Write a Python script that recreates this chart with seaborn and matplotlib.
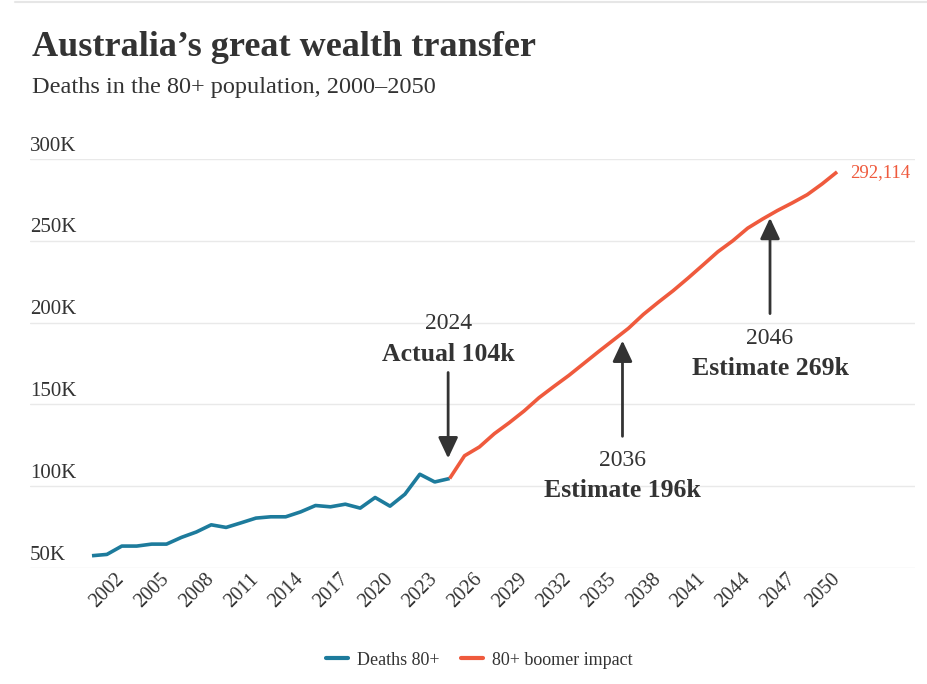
import matplotlib.pyplot as plt
import matplotlib.transforms as mtransforms
from matplotlib.lines import Line2D
import pandas as pd
import seaborn as sns

years_actual = list(range(2000, 2025))
deaths_actual = [57500, 58300, 63400, 63400, 64600, 64600, 68700, 72000, 76400, 74800,
                 77600, 80500, 81300, 81300, 84300, 88200, 87400, 89000, 86600, 93100,
                 87800, 95100, 107300, 102600, 104700]
years_proj = list(range(2024, 2051))
deaths_proj = [104700, 118600, 124000, 132100, 138800, 146000, 154100, 161000, 167700, 175000,
               182300, 189400, 196500, 205000, 212400, 219500, 227200, 235200, 243300, 250000,
               257700, 263300, 268500, 273200, 278200, 284800, 292114]
y_ticks = [50000, 100000, 150000, 200000, 250000, 300000]
y_labels = ['50K', '100K', '150K', '200K', '250K', '300K']
x_ticks = list(range(2002, 2051, 3))

blue = '#1d7b9c'
red = '#ef5a3d'
ink = '#333333'

sns.set_style('white')
plt.rcParams['font.family'] = ['Liberation Serif', 'DejaVu Serif']

df = pd.concat([
    pd.DataFrame({'Year': years_actual, 'Deaths': deaths_actual, 'Series': 'Deaths 80+'}),
    pd.DataFrame({'Year': years_proj, 'Deaths': deaths_proj, 'Series': '80+ boomer impact'}),
], ignore_index=True)

fig = plt.figure(figsize=(9.27, 6.84), dpi=100)
ax = fig.add_axes([30 / 927, 1 - 568 / 684, 885 / 927, 409 / 684])

sns.lineplot(data=df, x='Year', y='Deaths', hue='Series',
             palette={'Deaths 80+': blue, '80+ boomer impact': red},
             linewidth=2.6, errorbar=None, ax=ax)
for line in ax.lines:
    line.set_clip_on(False)
    line.set_solid_capstyle('butt')

ax.set_xlim(1995.84, 2055.23)
ax.set_ylim(50000, 300000)
ax.set_yticks(y_ticks)
ax.set_yticklabels(y_labels)
ax.set_xticks(x_ticks)
ax.set_xticklabels([str(y) for y in x_ticks])
ax.set_xlabel('')
ax.set_ylabel('')
ax.grid(axis='y', color='#e9e9e9', lw=1)
ax.grid(axis='x', visible=False)
sns.despine(ax=ax, left=True, bottom=True)

ax.tick_params(axis='y', length=0, pad=0, labelsize=15, labelcolor=ink)
ax.tick_params(axis='x', length=0, pad=6, labelsize=14.5, labelcolor=ink)
lift = mtransforms.ScaledTranslation(0, 2.5 / 72, fig.dpi_scale_trans)
for lab in ax.get_yticklabels():
    lab.set_ha('left')
    lab.set_va('bottom')
    lab.set_transform(lab.get_transform() + lift)
for lab in ax.get_xticklabels():
    lab.set_rotation(45)
    lab.set_ha('right')
    lab.set_va('center')
    lab.set_rotation_mode('anchor')

arrow = dict(arrowstyle='-|>,head_width=0.4,head_length=0.85', color=ink, lw=2,
             shrinkA=0, shrinkB=0, mutation_scale=15)
ax.annotate('', xy=(2023.9, 117000), xytext=(2023.9, 169500), arrowprops=arrow)
ax.annotate('', xy=(2035.6, 189000), xytext=(2035.6, 130500), arrowprops=arrow)
ax.annotate('', xy=(2045.5, 264000), xytext=(2045.5, 205500), arrowprops=arrow)

ax.text(2023.9, 199400, '2024', ha='center', va='center', fontsize=17, color=ink)
ax.text(2023.9, 180500, 'Actual 104k', ha='center', va='center', fontsize=18.5,
        fontweight='bold', color=ink)
ax.text(2035.6, 115900, '2036', ha='center', va='center', fontsize=17, color=ink)
ax.text(2035.6, 97600, 'Estimate 196k', ha='center', va='center', fontsize=18.5,
        fontweight='bold', color=ink)
ax.text(2045.5, 190200, '2046', ha='center', va='center', fontsize=17, color=ink)
ax.text(2045.5, 172000, 'Estimate 269k', ha='center', va='center', fontsize=18.5,
        fontweight='bold', color=ink)
ax.text(2050.87, 291600, f'{deaths_proj[-1]:,}', ha='left', va='center', fontsize=13.5,
        color=red)

sns.move_legend(ax, 'center', bbox_to_anchor=(0.508, -0.225), ncol=2, frameon=False,
                title=None, fontsize=13, handlelength=1.2, columnspacing=1.2,
                handletextpad=0.5)
for h in ax.get_legend().get_lines():
    h.set_linewidth(3)
for t in ax.get_legend().get_texts():
    t.set_color(ink)

fig.text(32 / 927, 1 - 47 / 684, 'Australia\u2019s great wealth transfer', ha='left',
         va='center', fontsize=26, fontweight='bold', color=ink)
fig.text(32 / 927, 1 - 88 / 684, 'Deaths in the 80+ population, 2000\u20132050', ha='left',
         va='center', fontsize=17.5, color=ink)
fig.add_artist(Line2D([15 / 927, 1], [1 - 2 / 684, 1 - 2 / 684], transform=fig.transFigure,
                      color='#e6e6e6', lw=1.5))

fig.savefig('out.png', dpi=100)
